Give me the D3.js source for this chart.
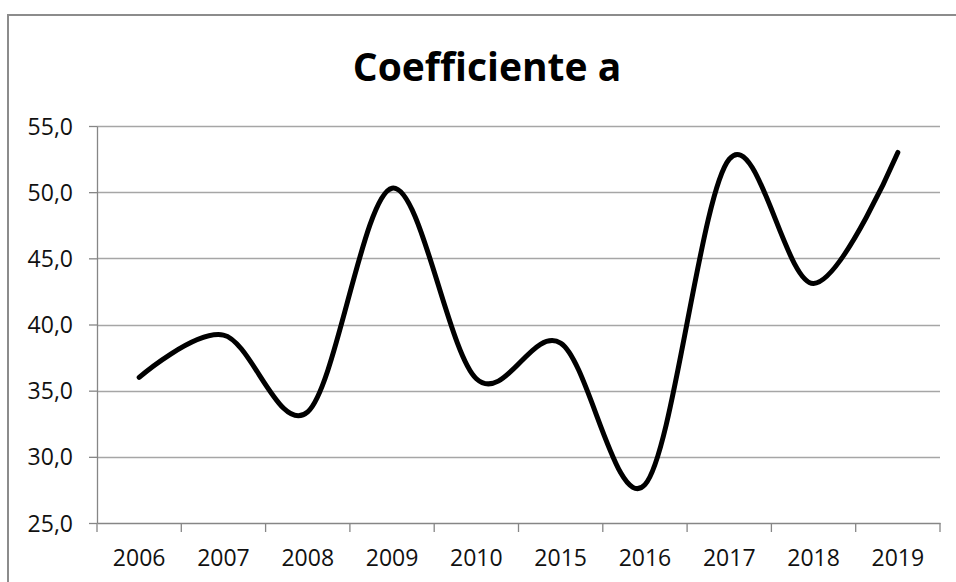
<!DOCTYPE html>
<html>
<head>
<meta charset="utf-8">
<script src="https://cdn.jsdelivr.net/npm/d3@7"></script>
<style>
	body { margin: 0; background: #fff; }
	text { font-family: "Open Sans", Lato, sans-serif; fill: #000; font-variant-ligatures: none; }
	.grid line { stroke: #a6a6a6; stroke-width: 1.3; }
	.axis path, .axis line { stroke: #868686; stroke-width: 1.3; }
	.axis text { font-size: 23px; fill: #111; }
</style>
</head>
<body>
<svg id="chart" width="956" height="582"></svg>
<script>
// data
const years = ["2006", "2007", "2008", "2009", "2010", "2015", "2016", "2017", "2018", "2019"];
const values = [36.0, 39.2, 33.4, 50.3, 35.9, 38.6, 27.9, 52.5, 43.1, 53.0];
const yTicks = [25, 30, 35, 40, 45, 50, 55];
const title = "Coefficiente a";

const svg = d3.select("#chart"),
	width = +svg.attr("width"),
	height = +svg.attr("height");

const plot = { left: 97, right: 940, top: 126, bottom: 523 };

// outer chart frame (cut off by the screenshot on right and bottom)
svg
	.append("rect")
	.attr("x", 8)
	.attr("y", 15)
	.attr("width", width + 20)
	.attr("height", height + 20)
	.attr("fill", "none")
	.attr("stroke", "#8c8c8c")
	.attr("stroke-width", 2);

const x = d3.scaleBand().domain(years).range([plot.left, plot.right]).padding(0);
const y = d3.scaleLinear().domain([25, 55]).range([plot.bottom, plot.top]);

// gridlines
svg
	.append("g")
	.attr("class", "grid")
	.selectAll("line")
	.data(yTicks.slice(1))
	.enter()
	.append("line")
	.attr("x1", plot.left)
	.attr("x2", plot.right)
	.attr("y1", (d) => Math.round(y(d)) + 0.5)
	.attr("y2", (d) => Math.round(y(d)) + 0.5);

const fmt = (d) => d3.format(".1f")(d).replace(".", ",");

// y axis
const yAxis = svg
	.append("g")
	.attr("class", "axis")
	.attr("transform", `translate(${plot.left},0)`)
	.call(d3.axisLeft(y).tickValues(yTicks).tickFormat(fmt).tickSize(8).tickSizeOuter(0).tickPadding(16));
yAxis.selectAll("text").attr("dy", "0.35em");

// x axis with ticks at category boundaries
const xAxis = svg
	.append("g")
	.attr("class", "axis")
	.attr("transform", `translate(0,${plot.bottom})`)
	.call(d3.axisBottom(x).tickSize(0).tickSizeOuter(0).tickPadding(35));
xAxis.selectAll("text").attr("dy", "0.35em");
xAxis
	.selectAll(".bound")
	.data(years.map((d) => x(d)).concat([plot.right]))
	.enter()
	.append("line")
	.attr("class", "bound")
	.attr("x1", (d) => d)
	.attr("x2", (d) => d)
	.attr("y1", 0)
	.attr("y2", 9);

// smoothed series line
const line = d3
	.line()
	.x((d, i) => x(years[i]) + x.bandwidth() / 2)
	.y((d) => y(d))
	.curve(d3.curveCardinal.tension(0));

svg
	.append("path")
	.datum(values)
	.attr("d", line)
	.attr("fill", "none")
	.attr("stroke", "#000")
	.attr("stroke-width", 5)
	.attr("stroke-linecap", "round")
	.attr("stroke-linejoin", "round");

// title
svg
	.append("text")
	.attr("x", 487)
	.attr("y", 81)
	.attr("text-anchor", "middle")
	.style("font-size", "39px")
	.style("font-weight", "bold")
	.text(title);
</script>
</body>
</html>
